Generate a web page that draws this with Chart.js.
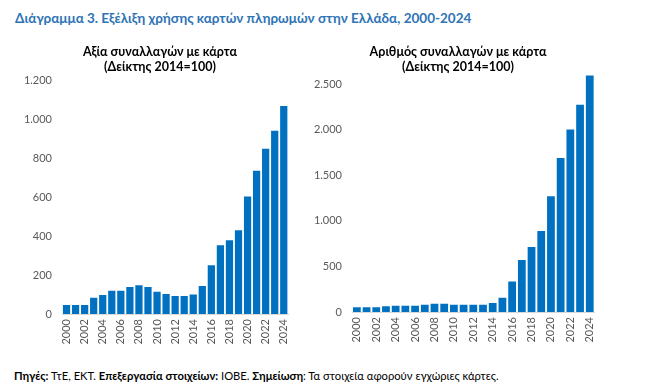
<!DOCTYPE html>
<html><head><meta charset="utf-8">
<script src="https://cdn.jsdelivr.net/npm/chart.js@4/dist/chart.umd.min.js"></script>
<style>
html,body{margin:0;padding:0;background:#fff;width:669px;height:391px;overflow:hidden;font-family:Lato,"Noto Sans",sans-serif;}
#title{position:absolute;left:15px;top:10px;font-size:13.5px;font-weight:bold;color:#2e74b5;white-space:nowrap;}
#note{position:absolute;left:14px;top:369px;font-size:11.2px;color:#000;white-space:nowrap;}
.cw{position:absolute;}
</style></head><body>
<div id="title">Διάγραμμα 3. Εξέλιξη χρήσης καρτών πληρωμών στην Ελλάδα, 2000-2024</div>
<div class="cw" style="left:20px;top:36px;width:282px;height:318px;"><canvas id="c1"></canvas></div>
<div class="cw" style="left:310px;top:36px;width:298px;height:318px;"><canvas id="c2"></canvas></div>
<div id="note"><b>Πηγές:</b> ΤτΕ, ΕΚΤ. <b>Επεξεργασία στοιχείων:</b> ΙΟΒΕ. <b>Σημείωση</b>: Τα στοιχεία αφορούν εγχώριες κάρτες.</div>
<script>
const years = ["2000","2001","2002","2003","2004","2005","2006","2007","2008","2009","2010","2011","2012","2013","2014","2015","2016","2017","2018","2019","2020","2021","2022","2023","2024"];
const valueIndex = [46,46,46,83,97,119,119,138,148,138,114,102,92,92,100,143,250,352,378,429,603,735,848,940,1067];
const countIndex = [51,51,51,62,69,69,69,80,91,91,80,80,80,80,100,156,335,571,713,888,1270,1689,2001,2274,2595];
const title1 = ["Αξία συναλλαγών με κάρτα","(Δείκτης 2014=100)"];
const title2 = ["Αριθμός συναλλαγών με κάρτα","(Δείκτης 2014=100)"];
const yTickValues1 = [0,200,400,600,800,1000,1200];
const yTickValues2 = [0,500,1000,1500,2000,2500];
const yMax1 = 1200;
const yMax2 = 2600;

const FONT = "Lato, 'Noto Sans', sans-serif";
function fmt(v){ return String(v).replace(/\B(?=(\d{3})+(?!\d))/g, "."); }

function make(id, data, title, tickVals, yMax, titleGap, xHeight){
  new Chart(document.getElementById(id), {
    type:'bar',
    data:{labels:years, datasets:[{data:data, backgroundColor:'#0070c0', borderWidth:0, barPercentage:0.8, categoryPercentage:1}]},
    options:{
      responsive:true, maintainAspectRatio:false, animation:false,
      layout:{padding:{left:0,right:2,top:0,bottom:0}},
      plugins:{
        legend:{display:false}, tooltip:{enabled:false},
        title:{display:true, text:title, color:'#000', font:{family:FONT,size:12.5,weight:'bold',lineHeight:1.2}, padding:{top:8,bottom:titleGap}}
      },
      scales:{
        x:{
          grid:{display:false, drawTicks:false},
          border:{display:true,color:'#d9d9d9'},
          ticks:{autoSkip:false, maxRotation:90, minRotation:90, padding:5, color:'#595959', font:{family:FONT,size:11},
            callback:function(v,i){ return i%2===0 ? years[i] : ''; }},
          afterFit:function(s){ s.height = xHeight; }
        },
        y:{
          min:0, max:yMax,
          grid:{display:false, drawTicks:false},
          border:{display:false},
          afterBuildTicks:function(s){ s.ticks = tickVals.map(function(v){ return {value:v}; }); },
          ticks:{autoSkip:false, padding:10, color:'#595959', font:{family:FONT,size:11}, callback:function(v){return fmt(v);}},
          afterFit:function(s){ s.width = 42; }
        }
      }
    }
  });
}
make('c1', valueIndex, title1, yTickValues1, yMax1, 6, 40);
make('c2', countIndex, title2, yTickValues2, yMax2, 1, 42);
</script>
</body></html>
